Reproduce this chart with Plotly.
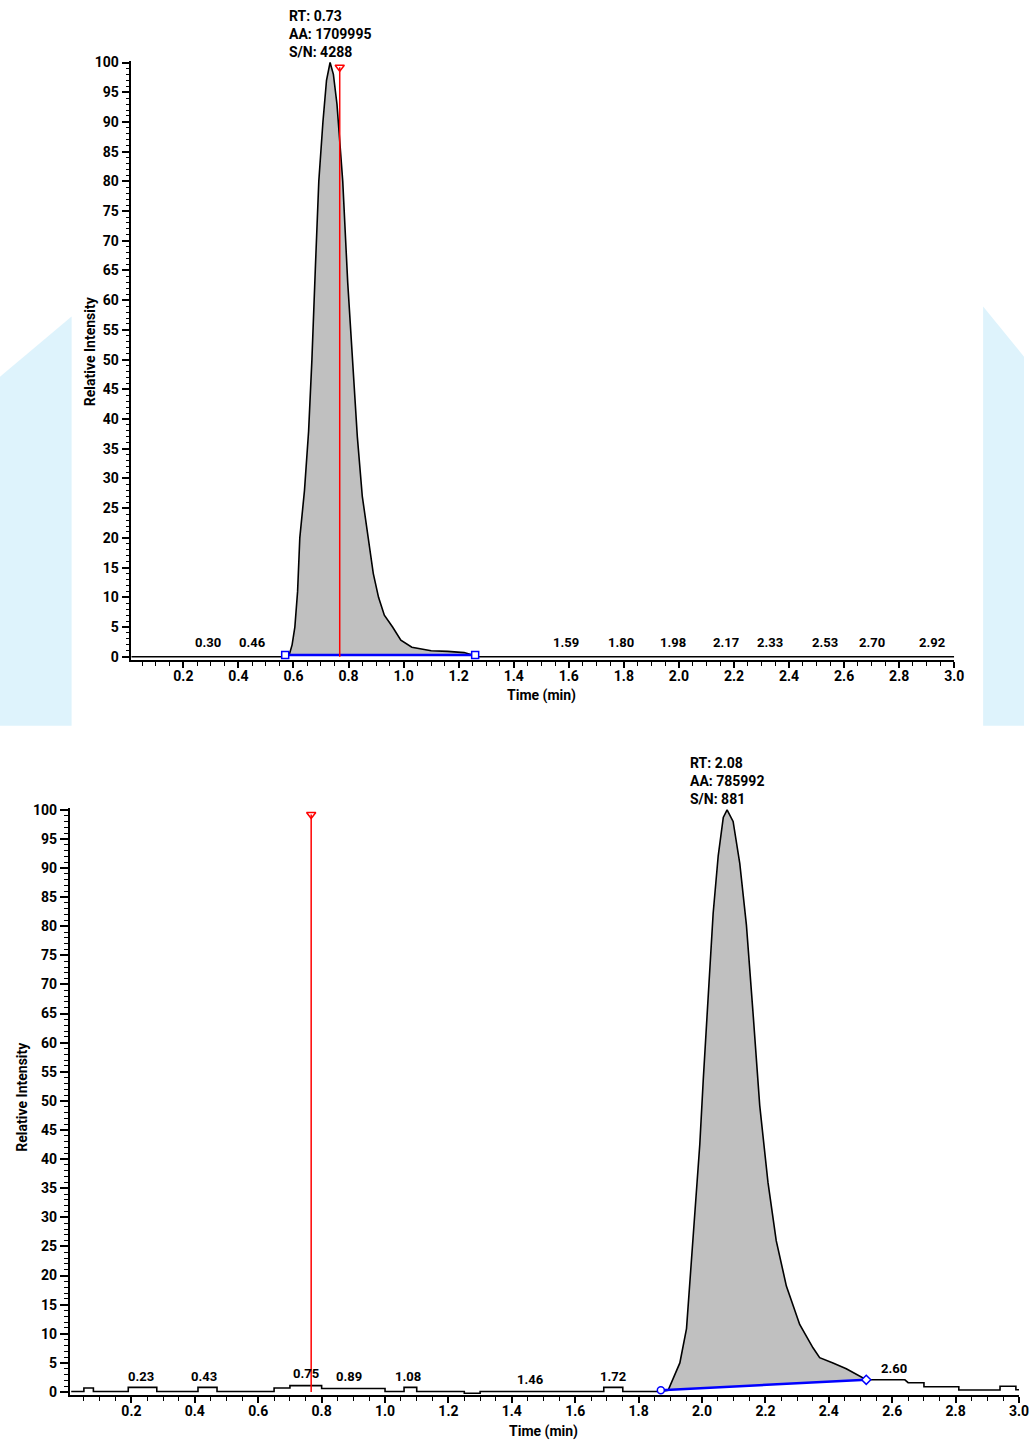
import numpy as np
import plotly.graph_objects as go

W, H = 1034, 1443
FONT = "Roboto, Liberation Sans, Arial, sans-serif"

# ---------------- data: top chromatogram ----------------
top_time = [0.01, 0.57, 0.585, 0.595, 0.605, 0.615, 0.623, 0.64, 0.655, 0.667, 0.68, 0.692,
            0.707, 0.72, 0.733, 0.745, 0.758, 0.779, 0.797, 0.815, 0.832, 0.85, 0.873, 0.89,
            0.909, 0.93, 0.96, 0.99, 1.03, 1.06, 1.10, 1.16, 1.22, 1.25, 1.27, 3.0]
top_int = [0, 0, 0.4, 2, 5, 11, 20, 28, 38, 50, 66, 80,
           90, 97, 100, 98, 93, 80, 63, 50, 37, 27, 20, 14,
           10, 7, 5, 2.8, 1.6, 1.3, 1.0, 0.9, 0.7, 0.3, 0, 0]
top_base_t = [0.57, 1.26]
top_base_y = [0.3, 0.3]
top_rt_line = 0.768
top_peak_t = [0.29, 0.45, 1.59, 1.79, 1.98, 2.17, 2.33, 2.53, 2.70, 2.92]
top_peak_lbl = ["0.30", "0.46", "1.59", "1.80", "1.98", "2.17", "2.33", "2.53", "2.70", "2.92"]
top_info = ["RT: 0.73", "AA: 1709995", "S/N: 4288"]
top_apex = 0.733

# ---------------- data: bottom chromatogram ----------------
bot_time = [0.01, 0.05, 0.05, 0.08, 0.08, 0.19, 0.19, 0.28, 0.28, 0.41, 0.41, 0.47, 0.47,
            0.65, 0.65, 0.70, 0.70, 0.80, 0.80, 1.00, 1.00, 1.06, 1.06, 1.10, 1.10, 1.25,
            1.25, 1.30, 1.30, 1.69, 1.69, 1.75, 1.75, 1.87, 1.893, 1.93, 1.951, 1.972,
            1.993, 2.004, 2.014, 2.025, 2.035, 2.051, 2.067, 2.079, 2.098, 2.119, 2.140,
            2.161, 2.182, 2.208, 2.234, 2.266, 2.308, 2.350, 2.371, 2.413, 2.455, 2.518,
            2.64, 2.65, 2.70, 2.70, 2.81, 2.81, 2.94, 2.94, 2.99, 2.99, 3.0]
bot_int = [0.1, 0.1, 0.7, 0.7, 0.1, 0.1, 0.8, 0.8, 0.1, 0.1, 0.8, 0.8, 0.1,
           0.1, 0.7, 0.7, 1.1, 1.1, 0.6, 0.6, 0.1, 0.1, 0.8, 0.8, 0.1, 0.1,
           -0.2, -0.2, 0.1, 0.1, 0.8, 0.8, 0.1, 0.1, 0.3, 5, 10.9, 27.4,
           42.6, 53.8, 62.4, 72.3, 82.2, 92.1, 98.7, 100, 98, 90.8, 80.2,
           65, 49.2, 36, 26, 18.2, 11.6, 7.6, 5.9, 5.0, 4.0, 2.1,
           2.1, 1.6, 1.6, 0.9, 0.9, 0.35, 0.35, 1.0, 1.0, 0.4, 0.4]
bot_base_t = [1.87, 2.518]
bot_base_y = [0.3, 2.1]
bot_rt_line = 0.767
bot_peak_t = [0.23, 0.43, 0.75, 0.886, 1.074, 1.46, 1.72, 2.607]
bot_peak_lbl = ["0.23", "0.43", "0.75", "0.89", "1.08", "1.46", "1.72", "2.60"]
bot_peak_y = [1.0, 1.0, 1.6, 1.0, 1.0, 0.5, 1.0, 2.4]
bot_info = ["RT: 2.08", "AA: 785992", "S/N: 881"]
bot_apex = 2.079


# layout helpers: pixel positions -> paper fractions
def PX(r):
    return (r + 1.8) / 0.993


def PY(r):
    return (r - 6.5) / 0.992


def fx(r):
    return PX(r) / W


def fy(r):
    return 1 - PY(r) / H


fig = go.Figure()


def add_panel(idx, t, y, bt, by, rt_line, end_symbols):
    xa = "x" if idx == 1 else "x2"
    ya = "y" if idx == 1 else "y2"
    t = np.asarray(t, float)
    y = np.asarray(y, float)
    m = (t >= bt[0]) & (t <= bt[1])
    pt = t[m]
    pv = y[m]
    poly_t = np.concatenate([[bt[0]], pt, [bt[1]], [bt[1], bt[0]]])
    poly_y = np.concatenate([[by[0]], pv, [by[1]], [by[1], by[0]]])
    fig.add_trace(go.Scatter(x=poly_t, y=poly_y, fill="toself", fillcolor="#c0c0c0",
                             line=dict(width=0), mode="lines", xaxis=xa, yaxis=ya,
                             hoverinfo="skip", showlegend=False))
    fig.add_trace(go.Scatter(x=t, y=y, mode="lines", line=dict(color="black", width=1.6),
                             xaxis=xa, yaxis=ya, showlegend=False, cliponaxis=False))
    fig.add_trace(go.Scatter(x=bt, y=by, mode="lines+markers",
                             line=dict(color="#0000ff", width=2.5),
                             marker=dict(symbol=end_symbols, size=7, color="white",
                                         line=dict(color="#0000ff", width=1.5)),
                             xaxis=xa, yaxis=ya, showlegend=False, cliponaxis=False))
    fig.add_trace(go.Scatter(x=[rt_line, rt_line], y=[0, 99.2], mode="lines",
                             line=dict(color="#ff0000", width=1.5),
                             xaxis=xa, yaxis=ya, showlegend=False))
    fig.add_trace(go.Scatter(x=[rt_line], y=[99.2], mode="markers",
                             marker=dict(symbol="triangle-down-open", size=8, color="#ff0000",
                                         line=dict(width=1.5)),
                             xaxis=xa, yaxis=ya, showlegend=False, cliponaxis=False))


add_panel(1, top_time, top_int, top_base_t, top_base_y, top_rt_line, ["square", "square"])
add_panel(2, bot_time, bot_int, bot_base_t, bot_base_y, bot_rt_line, ["circle", "diamond"])

tickfont = dict(family=FONT, size=14, color="black", weight="bold")


def xaxis_cfg(dom, rng, anchor):
    return dict(domain=dom, range=rng, showgrid=False, zeroline=False, showline=True,
                linecolor="black", linewidth=2, ticks="outside", ticklen=6, tickwidth=1.5,
                tickcolor="black", dtick=0.2, tick0=0, tickformat=".1f", tickfont=tickfont,
                anchor=anchor, ticklabelstandoff=-4,
                minor=dict(dtick=0.05, tick0=0, ticks="outside", ticklen=4, tickwidth=1.2,
                           tickcolor="black"))


def yaxis_cfg(dom, rng, anchor):
    return dict(domain=dom, range=rng, showgrid=False, zeroline=False, showline=True,
                linecolor="black", linewidth=1.5, ticks="outside", ticklen=8, tickwidth=1.5,
                tickcolor="black", dtick=5, tick0=0, tickfont=tickfont, anchor=anchor,
                minor=dict(dtick=1, tick0=0, ticks="outside", ticklen=4, tickwidth=1,
                           tickcolor="black"))


top_y0, top_y100 = 657.0, 63.0
bot_y0, bot_y100 = 1392.0, 810.0
yr = [-0.5, 100.3]


def ydom(y0, y100):
    p0, p100 = PY(y0), PY(y100)
    u = (p0 - p100) / 100.0
    return [1 - (p0 - yr[0] * u) / H, 1 - (p100 - (yr[1] - 100) * u) / H]


fig.update_layout(
    width=W, height=H, margin=dict(l=0, r=0, t=0, b=0),
    paper_bgcolor="white", plot_bgcolor="white",
    xaxis=xaxis_cfg([fx(130), fx(955)], [0.0115, 3.0], "y"),
    yaxis=yaxis_cfg(ydom(top_y0, top_y100), yr, "x"),
    xaxis2=xaxis_cfg([fx(68), fx(1020)], [0.005, 3.0], "y2"),
    yaxis2=yaxis_cfg(ydom(bot_y0, bot_y100), yr, "x2"),
    showlegend=False,
)

# background watermark areas
fig.add_shape(type="path", xref="paper", yref="paper", layer="below",
              path=f"M 0 {fy(377)} L {fx(70)} {fy(317)} L {fx(70)} {fy(726)} L 0 {fy(726)} Z",
              fillcolor="#def3fc", line=dict(width=0))
fig.add_shape(type="path", xref="paper", yref="paper", layer="below",
              path=f"M {fx(984)} {fy(307)} L 1 {fy(357)} L 1 {fy(726)} L {fx(984)} {fy(726)} Z",
              fillcolor="#def3fc", line=dict(width=0))

ann = []
lblfont = dict(family=FONT, size=13, color="black", weight="bold")
for t, s in zip(top_peak_t, top_peak_lbl):
    ann.append(dict(x=t, y=0.8, xref="x", yref="y", text=s, showarrow=False,
                    xanchor="center", yanchor="bottom", font=lblfont))
for t, s, yy in zip(bot_peak_t, bot_peak_lbl, bot_peak_y):
    ann.append(dict(x=t, y=yy, xref="x2", yref="y2", text=s, showarrow=False,
                    xanchor="center", yanchor="bottom", font=lblfont))

infofont = dict(family=FONT, size=14, color="black", weight="bold")
ann.append(dict(x=top_apex, y=100, xref="x", yref="y", text="<br>".join(top_info),
                showarrow=False, xanchor="center", yanchor="bottom", yshift=1, align="left",
                font=infofont))
ann.append(dict(x=bot_apex, y=100, xref="x2", yref="y2", text="<br>".join(bot_info),
                showarrow=False, xanchor="center", yanchor="bottom", yshift=1, align="left",
                font=infofont))

titlefont = dict(family=FONT, size=14, color="black", weight="bold")
for (tx, ty, txt, ang) in [(88, 352, "Relative Intensity", -90),
                           (20, 1097, "Relative Intensity", -90),
                           (541, 696, "Time (min)", 0),
                           (543, 1431, "Time (min)", 0)]:
    ann.append(dict(x=fx(tx), y=fy(ty), xref="paper", yref="paper", text=txt, textangle=ang,
                    showarrow=False, xanchor="center", yanchor="middle", font=titlefont))

fig.update_layout(annotations=ann)
fig.write_html("out.html", config={"displayModeBar": False},
               post_script="document.body.style.margin='0';document.body.style.overflow='hidden';")
